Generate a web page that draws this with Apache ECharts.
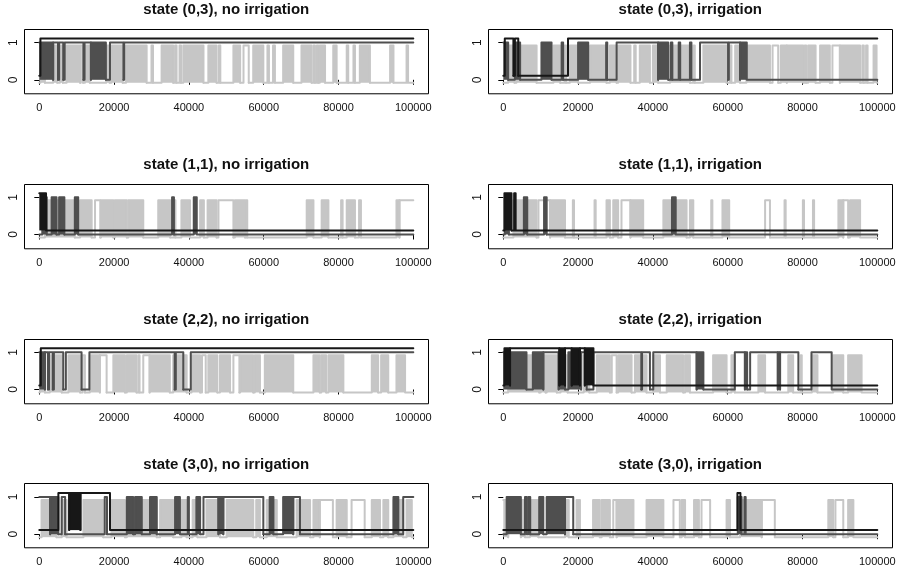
<!DOCTYPE html>
<html>
<head>
<meta charset="utf-8">
<script src="https://cdn.jsdelivr.net/npm/echarts@6/dist/echarts.min.js"></script>
<style>
  html, body { margin: 0; padding: 0; background: #fff; }
  #chart { width: 898px; height: 573px; }
</style>
</head>
<body>
<div id="chart"></div>
<script>
// Trace of three binary chains per state / treatment.
// Each entry is an interval [start, end] where the chain sits at 1;
// a third element 1 marks a stretch of rapid switching (drawn filled).

const panelTitles = [
  'state (0,3), no irrigation', 'state (0,3), irrigation',
  'state (1,1), no irrigation', 'state (1,1), irrigation',
  'state (2,2), no irrigation', 'state (2,2), irrigation',
  'state (3,0), no irrigation', 'state (3,0), irrigation'
];

const iterMax = 100000;
const xTickStep = 20000;

// ---- state (0,3), no irrigation
const gray_03_no = [[300,1500,1],[3700,4800,1],[5500,6300,1],[7300,10900,1],[11100,11700],[12200,13500,1],[17900,18800,1],[19300,22300,1],[23200,28700,1],[30000,30400],[32700,35800,1],[36300,36700],[37500,37900],[38500,43900,1],[45200,47400,1],[48000,48400],[51900,53700,1],[54600,56000],[57200,59900,1],[61000,61400],[62500,63000],[65200,67900,1],[70100,72800,1],[73300,73700],[74200,74600],[75000,76400,1],[78600,79500,1],[82200,82600],[84000,84400],[85700,88400,1],[93800,94700,1],[98200,98600]];
const dark_03_no = [[0,3700,1],[3700,5000],[5300,6400],[6800,11800],[12100,13800],[13800,17800,1],[18900,22500],[22700,100000]];
const black_03_no = [[300,100000]];

// ---- state (0,3), irrigation
const gray_03_ir = [[1300,3000,1],[3500,8900,1],[13400,15200,1],[16400,16800],[17800,20000,1],[23200,27600,1],[28500,30300,1],[30700,34000,1],[35000,35400],[36500,39200,1],[40000,41400,1],[44600,49900,1],[50800,51200],[53500,59700,1],[60600,61000],[62000,63300,1],[65000,71300,1],[72000,73500],[74200,75800,1],[75800,80200,1],[80600,81000],[81500,83500,1],[84700,87300,1],[88000,90000],[90000,95400,1],[96000,96400],[97000,97400],[99000,99800,1]];
const dark_03_ir = [[0,1300,1],[3100,4500,1],[10200,12900,1],[15600,16000],[20000,22700,1],[27500,27800],[30300,41400],[41400,44100,1],[44800,45200],[46900,47300],[49900,50300],[52600,60100],[60300,63300],[63300,65100,1]];
const black_03_ir = [[400,2700],[3100,4000],[17300,100000]];

// ---- state (1,1), no irrigation
const gray_11_no = [[1500,9500,1],[10900,14000,1],[14900,16300],[16500,19800,1],[20200,23400,1],[23800,27800,1],[31800,35000,1],[36100,36400],[38000,40300,1],[43000,44000,1],[45000,47400,1],[47900,51900],[52300,55000,1],[55300,55600],[71500,73300,1],[75500,77300,1],[80700,81100],[82200,84400,1],[85500,86000,1],[95500,96300,1],[96300,100000]];
const dark_11_no = [[800,2000,1],[3300,4600,1],[5300,6700,1],[9500,10400,1],[35500,36000,1],[41300,42100,1]];
const black_11_no = [[0,1800,1]];

// ---- state (1,1), irrigation
const gray_11_ir = [[2700,8900,1],[9400,12500],[12500,16500,1],[18600,18900],[24400,24700],[27600,28500,1],[29400,30700,1],[31600,34000],[34000,37400,1],[42800,49000,1],[49900,50800,1],[55600,55900],[58600,60400,1],[70000,71300],[75200,75500],[80100,80400],[82800,83100],[89600,90900,1],[90900,92200],[92700,95400,1]];
const dark_11_ir = [[400,1500,1],[5500,6400,1],[10900,11600,1],[45100,46100,1]];
const black_11_ir = [[300,2200,1],[2900,3300]];

// ---- state (2,2), no irrigation
const gray_22_no = [[200,1500,1],[2800,6000,1],[7800,10900,1],[11600,12200],[13500,16200,1],[16200,18000],[19800,22900,1],[23400,26000,1],[26500,26800],[27800,29500],[29500,34900,1],[35800,39400,1],[40700,43000,1],[43500,44500],[45200,47600,1],[48300,51000,1],[51900,53500],[53700,57200,1],[57600,59000,1],[60300,67900,1],[73300,75000,1],[75400,76700,1],[77300,81300,1],[88900,90600,1],[91400,93300,1],[95500,97800,1]];
const dark_22_no = [[0,1500,1],[1500,2300],[2600,3600],[3900,6400],[7100,11300],[13400,36200],[36500,38500],[40500,100000]];
const black_22_no = [[400,100000]];

// ---- state (2,2), irrigation
const gray_22_ir = [[1300,9600,1],[10000,11300,1],[11600,14300,1],[15300,17200,1],[21500,23000,1],[25000,28500,1],[29000,30300],[30700,34300,1],[35200,38300,1],[40100,41900,1],[43700,48100,1],[48600,49900,1],[56100,59700,1],[61000,61900,1],[68200,70000,1],[76200,77500,1],[79500,79800],[82500,84000,1],[88200,90900,1],[92200,95800,1]];
const dark_22_ir = [[0,6200,1],[7900,10700,1],[10700,14800],[14800,16500,1],[17400,20800,1],[20800,22300],[24100,36900],[37100,39200],[40100,51700],[51700,53500,1],[61900,64600],[64600,65200,1],[66000,73400],[73400,74000,1],[74000,78900],[82400,87800]];
const black_22_ir = [[300,1800,1],[1800,15000],[15000,16500,1],[16500,18300],[18300,20500,1],[20500,21800],[21800,24100,1]];

// ---- state (3,0), no irrigation
const gray_30_no = [[600,4600,1],[6000,7300,1],[11800,17100,1],[19300,22900,1],[23400,31400,1],[32300,35800,1],[38000,39400,1],[41000,42300,1],[44700,48300,1],[50100,57200,1],[58000,59000,1],[60800,63500,1],[68800,72400,1],[73300,75000,1],[75000,78500],[79500,82200,1],[83500,87000],[88900,91100,1],[92000,93300,1],[94700,97300,1],[98200,99600,1]];
const dark_30_no = [[0,2900],[2900,5100,1],[6000,6900],[17500,18100],[23400,25100,1],[25600,27400,1],[29600,31400,1],[36300,37600,1],[39700,40000],[42000,43000,1],[43900,47900],[47900,49200,1],[49200,59900],[61600,62600,1],[65200,67900,1],[67900,69700],[94700,96000,1],[97300,100000]];
const black_30_no = [[5100,8000],[8000,11000,1],[11000,18900]];

// ---- state (3,0), irrigation
const gray_30_ir = [[0,1300,1],[1300,4700],[4700,5800,1],[7100,9400,1],[16500,17500,1],[19600,20500,1],[24000,25800,1],[26300,28500,1],[29400,30300],[30300,34800,1],[38300,42800,1],[45500,47200],[47700,48600,1],[51000,52300,1],[53000,55300],[59700,60600,1],[63300,69100,1],[69100,72600],[86900,88200,1],[88800,90900],[92200,93600,1]];
const dark_30_ir = [[900,4700,1],[5800,6300],[6700,7200],[9600,10700,1],[11600,16500,1],[16500,18700],[62700,63700,1],[64500,64800]];
const black_30_ir = [[62600,63400]];

const panelChains = [
  [gray_03_no, dark_03_no, black_03_no], [gray_03_ir, dark_03_ir, black_03_ir],
  [gray_11_no, dark_11_no, black_11_no], [gray_11_ir, dark_11_ir, black_11_ir],
  [gray_22_no, dark_22_no, black_22_no], [gray_22_ir, dark_22_ir, black_22_ir],
  [gray_30_no, dark_30_no, black_30_no], [gray_30_ir, dark_30_ir, black_30_ir]
];

// chain styling: colour and vertical offset so the three traces do not overlap
const chainStyle = [
  { color: '#c6c6c6', shift: -0.08, z: 1 },
  { color: '#4f4f4f', shift: 0, z: 2 },
  { color: '#171717', shift: 0.11, z: 3 }
];

// layout (pixels)
const colX = [39.3, 503.3];
const rowY = [42.6, 197.3, 352.3, 497];
const plotW = 374;
const unitH = 37.2;
const padX = 15;          // 4% of the x range
const padY = 0.364 * unitH;
const fontFam = '"Liberation Sans", Arial, Helvetica, sans-serif';

// one item per visit to state 1: [start, end, previous end, dense flag, run-on end]
function chainItems(intervals) {
  const items = [];
  let prev = 0;
  intervals.forEach(function (iv, k) {
    const isLast = k === intervals.length - 1;
    items.push([iv[0], iv[1], prev, iv[2] === 1 ? 1 : 0, isLast ? iterMax : iv[1]]);
    prev = iv[1];
  });
  return items;
}

function makeRenderer(st) {
  const lo = st.shift, hi = 1 + st.shift;
  return function (params, api) {
    const a = api.value(0), b = api.value(1), prev = api.value(2), dense = api.value(3), tail = api.value(4);
    const path = [];
    if (a > 0) { path.push([prev, lo]); path.push([a, lo]); }
    path.push([a, hi]);
    path.push([b, hi]);
    if (b < iterMax) {
      path.push([b, lo]);
      if (tail > b) path.push([tail, lo]);
    }
    const children = [];
    if (dense) {
      const p1 = api.coord([a, hi]);
      const p2 = api.coord([b, lo]);
      children.push({ type: 'rect', shape: { x: p1[0], y: p1[1], width: p2[0] - p1[0], height: p2[1] - p1[1] }, style: { fill: st.color } });
    }
    children.push({
      type: 'polyline',
      shape: { points: path.map(function (p) { return api.coord(p); }) },
      style: { stroke: st.color, lineWidth: 2, fill: null, lineJoin: 'round', lineCap: 'round' }
    });
    return { type: 'group', children: children };
  };
}

const grids = [], xAxes = [], yAxes = [], series = [], graphics = [];

panelTitles.forEach(function (title, i) {
  const col = i % 2, row = Math.floor(i / 2);
  const x0 = colX[col], y1 = rowY[row];
  grids.push({ left: x0, top: y1, width: plotW, height: unitH, outerBoundsMode: 'none', containLabel: false });
  xAxes.push({
    gridIndex: i, type: 'value', min: 0, max: iterMax, interval: xTickStep,
    offset: padY,
    axisLine: { show: false },
    axisTick: { show: true, length: 5, lineStyle: { color: '#000', width: 1 } },
    axisLabel: { fontSize: 11, color: '#111', margin: 9, fontFamily: fontFam, formatter: function (v) { return String(v); } },
    splitLine: { show: false }
  });
  yAxes.push({
    gridIndex: i, type: 'value', min: 0, max: 1, interval: 1,
    offset: padX,
    axisLine: { show: false },
    axisTick: { show: true, length: 5, lineStyle: { color: '#000', width: 1 } },
    axisLabel: { fontSize: 12, color: '#111', margin: 5, rotate: 90, fontFamily: fontFam },
    splitLine: { show: false }
  });

  // frame around the plotting region
  graphics.push({
    type: 'rect', silent: true,
    shape: { x: Math.round(x0 - padX) + 0.5, y: Math.round(y1 - padY) + 0.5, width: plotW + 2 * padX, height: unitH + 2 * padY },
    style: { fill: 'none', stroke: '#000', lineWidth: 1 }, z: 10
  });
  graphics.push({
    type: 'text', silent: true,
    x: x0 + plotW / 2, y: y1 - 32.6,
    style: { text: title, align: 'center', verticalAlign: 'middle', textAlign: 'center', textVerticalAlign: 'middle', font: 'bold 15px ' + fontFam, fill: '#111' }
  });

  panelChains[i].forEach(function (intervals, c) {
    const st = chainStyle[c];
    series.push({
      type: 'custom', xAxisIndex: i, yAxisIndex: i,
      data: chainItems(intervals),
      clip: false, animation: false, silent: true, z: st.z,
      renderItem: makeRenderer(st)
    });
  });
});

const chart = echarts.init(document.getElementById('chart'), null, { renderer: 'canvas' });
chart.setOption({
  backgroundColor: '#fff',
  animation: false,
  grid: grids,
  xAxis: xAxes,
  yAxis: yAxes,
  series: series,
  graphic: { elements: graphics }
});
</script>
</body>
</html>
